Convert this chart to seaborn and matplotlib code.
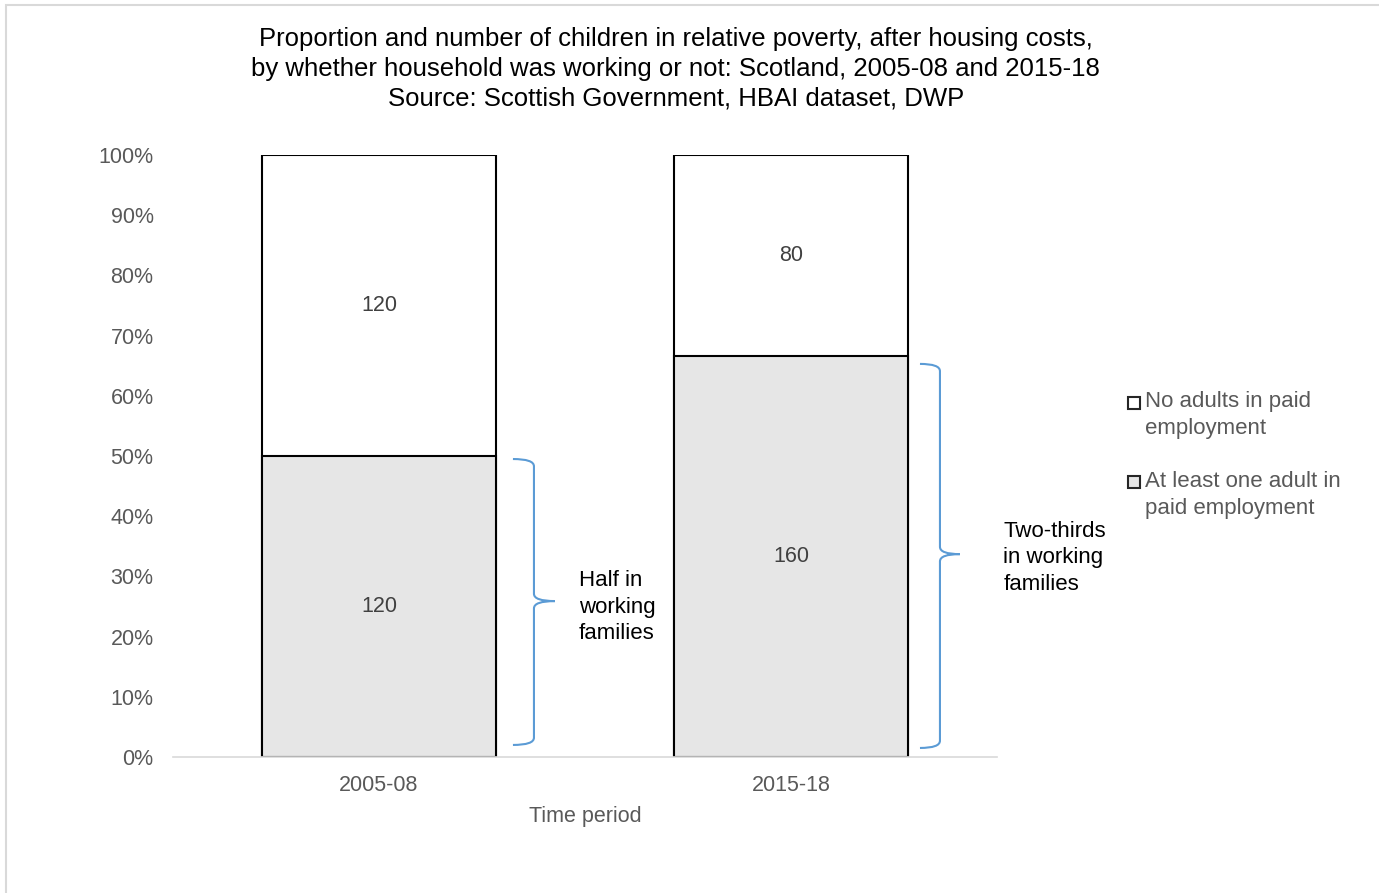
import numpy as np
import pandas as pd
import seaborn as sns
import matplotlib.pyplot as plt
from matplotlib.patches import Rectangle
from matplotlib.path import Path
from matplotlib.patches import PathPatch

# Data (thousands of children)
periods = ["2005-08", "2015-18"]
working = [120, 160]
not_working = [120, 80]
brace_labels = ["Half in\nworking\nfamilies", "Two-thirds\nin working\nfamilies"]
legend_labels = ["No adults in paid\nemployment", "At least one adult in\npaid employment"]

df = pd.DataFrame({"period": periods, "working": working, "not_working": not_working})
df["total"] = df["working"] + df["not_working"]
df["work_share"] = df["working"] / df["total"]
df["all_share"] = df["total"] / df["total"]

sns.set_theme(style="white")
plt.rcParams["font.family"] = ["Liberation Sans", "DejaVu Sans"]

fig = plt.figure(figsize=(13.79, 8.93), dpi=100)
ax = fig.add_axes([0.1255, 0.1523, 0.5975, 0.6741])

grey_txt = "#595959"
fill_work = "#E6E6E6"
sns.barplot(data=df, x="period", y="all_share", color="white", edgecolor="black",
            linewidth=1.5, width=0.57, saturation=1, ax=ax)
sns.barplot(data=df, x="period", y="work_share", color=fill_work, edgecolor="black",
            linewidth=1.5, width=0.57, saturation=1, ax=ax)

ax.set_xlim(-0.5, 1.5)
ax.set_ylim(0, 1)
ax.set_yticks(np.arange(0, 1.01, 0.1))
ax.set_yticklabels([f"{int(round(v * 100))}%" for v in np.arange(0, 1.01, 0.1)])
ax.tick_params(axis="both", colors=grey_txt, labelsize=15.5, length=0)
ax.tick_params(axis="y", pad=14)
ax.tick_params(axis="x", pad=13)
ax.set_xlabel("Time period", color=grey_txt, fontsize=15.5, labelpad=7)
ax.set_ylabel("")
for s in ["top", "right", "left"]:
    ax.spines[s].set_visible(False)
ax.spines["bottom"].set_color("#D9D9D9")
ax.spines["bottom"].set_linewidth(1.2)

# value labels
for i, row in df.iterrows():
    ax.text(i, row["work_share"] / 2, str(row["working"]), ha="center", va="center",
            fontsize=15.5, color="#404040")
    ax.text(i, (1 + row["work_share"]) / 2, str(row["not_working"]), ha="center", va="center",
            fontsize=15.5, color="#404040")


def brace(ax, x0, x1, y0, y1, ym, color="#5B9BD5"):
    xm = (x0 + x1) / 2
    hook = 0.012
    verts = [
        (x0, y1), (xm, y1), (xm, y1 - hook),
        (xm, ym + hook), (xm, ym), (x1, ym),
        (xm, ym), (xm, ym - hook),
        (xm, y0 + hook), (xm, y0), (x0, y0),
    ]
    codes = [Path.MOVETO, Path.CURVE3, Path.CURVE3,
             Path.LINETO, Path.CURVE3, Path.CURVE3,
             Path.CURVE3, Path.CURVE3,
             Path.LINETO, Path.CURVE3, Path.CURVE3]
    ax.add_patch(PathPatch(Path(verts, codes), fill=False, edgecolor=color, lw=1.5,
                           clip_on=False))


brace(ax, 0.325, 0.427, 0.02, 0.495, 0.259)
brace(ax, 1.313, 1.41, 0.015, 0.653, 0.337)
ax.text(0.485, 0.249, brace_labels[0], ha="left", va="center", fontsize=16,
        color="black", linespacing=1.35)
ax.text(1.515, 0.331, brace_labels[1], ha="left", va="center", fontsize=16,
        color="black", linespacing=1.35, clip_on=False)

# title
fig.text(0.49, 0.923, "Proportion and number of children in relative poverty, after housing costs,\n"
         "by whether household was working or not: Scotland, 2005-08 and 2015-18\n"
         "Source: Scottish Government, HBAI dataset, DWP",
         ha="center", va="center", fontsize=18.5, color="black", linespacing=1.3)

# legend (marker next to the first line of each wrapped label)
legend_fills = ["white", fill_work]
legend_y = [0.535, 0.446]
for lab, fc, yc in zip(legend_labels, legend_fills, legend_y):
    fig.patches.append(Rectangle((0.8182, yc + 0.0072), 0.0088, 0.0136,
                                 transform=fig.transFigure, facecolor=fc,
                                 edgecolor="#262626", lw=1.5))
    fig.text(0.8303, yc, lab, ha="left", va="center", fontsize=16,
             color=grey_txt, linespacing=1.35)

# chart border
fig.patches.append(Rectangle((0.0045, -0.01), 1.0, 1.004, transform=fig.transFigure,
                             fill=False, edgecolor="#D9D9D9", lw=1.5))

fig.savefig("out.png", dpi=100)
